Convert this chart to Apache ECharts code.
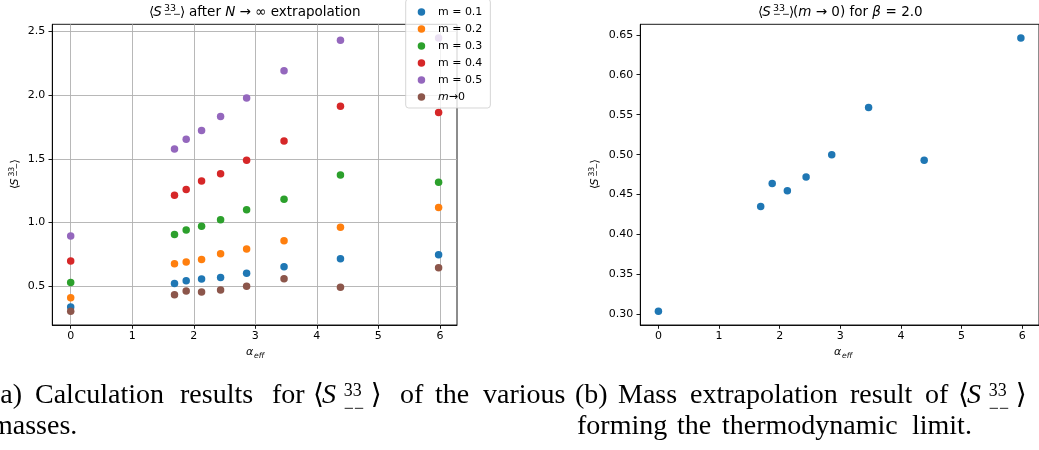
<!DOCTYPE html>
<html>
<head>
<meta charset="utf-8">
<script src="https://cdn.jsdelivr.net/npm/echarts@6.0.0/dist/echarts.min.js"></script>
<style>
  html, body { margin: 0; padding: 0; background: #fff; }
  #chart { width: 1039px; height: 450px; }
</style>
</head>
<body>
<div id="chart"></div>
<script>
// data
const alphaEff = [0, 1.687, 1.877, 2.127, 2.436, 2.859, 3.467, 4.384, 5.979]
const m01 = [0.338, 0.523, 0.544, 0.557, 0.570, 0.602, 0.654, 0.716, 0.748]
const m02 = [0.411, 0.677, 0.690, 0.711, 0.756, 0.792, 0.857, 0.964, 1.118]
const m03 = [0.531, 0.907, 0.941, 0.972, 1.022, 1.100, 1.183, 1.374, 1.316]
const m04 = [0.698, 1.214, 1.259, 1.327, 1.384, 1.488, 1.640, 1.913, 1.864]
const m05 = [0.894, 1.577, 1.653, 1.723, 1.832, 1.978, 2.190, 2.430, 2.448]
const massless = [0.304, 0.435, 0.464, 0.455, 0.472, 0.500, 0.559, 0.493, 0.646]

const seriesNames = ['m = 0.1', 'm = 0.2', 'm = 0.3', 'm = 0.4', 'm = 0.5', 'm→0']
const xTicks = [0, 1, 2, 3, 4, 5, 6]
const yTicksA = [0.5, 1.0, 1.5, 2.0, 2.5]
const yTicksB = [0.30, 0.35, 0.40, 0.45, 0.50, 0.55, 0.60, 0.65]

// matplotlib tab10
const colors = ['#1f77b4', '#ff7f0e', '#2ca02c', '#d62728', '#9467bd', '#8c564b']

const FONT = "'DejaVu Sans', sans-serif"
const SERIF = "'Liberation Serif', 'DejaVu Serif', serif"

// autoscale with 5% margins like matplotlib
function pad(vals) {
  const lo = Math.min(...vals)
  const hi = Math.max(...vals)
  const d = (hi - lo) * 0.05
  return [lo - d, hi + d]
}
const xExt = pad(alphaEff)
const yExtA = pad([].concat(m01, m02, m03, m04, m05, massless))
const yExtB = pad(massless)

const chart = echarts.init(document.getElementById('chart'))

function xAxis(g, grid) {
  return {
    type: 'value',
    gridIndex: g,
    min: xExt[0],
    max: xExt[1],
    axisLine: { show: true, onZero: false, lineStyle: { color: '#000', width: 0.9 } },
    axisTick: { show: true, length: 3.8, customValues: xTicks, lineStyle: { color: '#000', width: 0.9 } },
    axisLabel: { customValues: xTicks, color: '#000', fontSize: 11, margin: 6, fontFamily: FONT },
    splitLine: { show: grid, lineStyle: { color: '#b0b0b0', width: 0.9 } }
  }
}

function yAxis(g, ticks, ext, dec, grid) {
  return {
    type: 'value',
    gridIndex: g,
    min: ext[0],
    max: ext[1],
    axisLine: { show: true, onZero: false, lineStyle: { color: '#000', width: 0.9 } },
    axisTick: { show: true, length: 3.8, customValues: ticks, lineStyle: { color: '#000', width: 0.9 } },
    axisLabel: {
      customValues: ticks,
      color: '#000',
      fontSize: 11,
      margin: 7,
      fontFamily: FONT,
      formatter: v => v.toFixed(dec)
    },
    splitLine: { show: grid, lineStyle: { color: '#b0b0b0', width: 0.9 } }
  }
}

// text helpers, y given as baseline
function t(x, base, str, size, o) {
  o = o || {}
  const fam = o.family || FONT
  return {
    type: 'text',
    silent: true,
    x: x,
    y: base - 0.34 * size,
    style: {
      text: str,
      fontSize: size,
      fontFamily: fam,
      fontStyle: o.italic ? 'italic' : 'normal',
      fill: '#000',
      align: 'left',
      verticalAlign: 'middle',
      textAlign: 'left',
      textVerticalAlign: 'middle',
      rich: o.rich
    }
  }
}

// <S^33_--> with stacked scripts
function bracketS(x, base, fs, fam, gm) {
  return [
    t(x, base, '⟨', fs, { family: fam }),
    t(x + gm.s * fs, base, 'S', fs, { family: fam, italic: true }),
    t(x + gm.sup * fs, base - gm.rise * fs, '33', gm.size * fs, { family: fam }),
    t(x + gm.sup * fs, base + gm.drop * fs, gm.dash, gm.size * fs, { family: fam }),
    t(x + gm.close * fs, base, '⟩', fs, { family: fam })
  ]
}
const mplGeom = { s: 0.31, sup: 1.12, rise: 0.42, drop: 0.04, size: 0.7, close: 2.3, dash: '−\u200a−' }
const texGeom = { s: 0.32, sup: 1.1, rise: 0.26, drop: 0.38, size: 0.64, close: 2.06, dash: '−−' }

const titleFs = 13.5
const italicRich = {
  i: { fontStyle: 'italic', fontFamily: FONT, fontSize: titleFs }
}

function ylabel(cx, cy) {
  const fs = 11
  return {
    type: 'group',
    x: cx,
    y: cy,
    rotation: Math.PI / 2,
    silent: true,
    children: bracketS(-1.3 * fs, 0.36 * fs, fs, FONT, mplGeom)
  }
}

function xlabel(x, base) {
  return [
    t(x, base, 'α', 11, { italic: true }),
    t(x + 8, base + 2.5, 'eff', 7.7, { italic: true })
  ]
}

const capFs = 28
function cap(x, base, str) {
  return t(x, base, str, capFs, { family: SERIF })
}

const graphics = [].concat(
  // titles
  bracketS(149, 17, titleFs, FONT, mplGeom),
  [t(189, 17, 'after {i|N} → ∞ extrapolation', titleFs, { rich: italicRich })],
  bracketS(758, 17, titleFs, FONT, mplGeom),
  [t(793, 17, '({i|m} → 0) for {i|β}\u2004=\u20042.0', titleFs, { rich: italicRich })],
  // axis names
  [ylabel(15, 174.6), ylabel(595, 174.6)],
  xlabel(246, 356),
  xlabel(834, 356),
  // captions
  [
    cap(-9, 405, '(a)'),
    cap(35, 405, 'Calculation'),
    cap(180, 405, 'results'),
    cap(272, 405, 'for')
  ],
  bracketS(313, 405, capFs, SERIF, texGeom),
  [
    cap(400, 405, 'of'),
    cap(435, 405, 'the'),
    cap(483, 405, 'various'),
    cap(-9, 436, 'masses.'),
    cap(575, 405, '(b)'),
    cap(618, 405, 'Mass'),
    cap(690, 405, 'extrapolation'),
    cap(850, 405, 'result'),
    cap(925, 405, 'of')
  ],
  bracketS(958, 405, capFs, SERIF, texGeom),
  [
    cap(577, 436, 'forming'),
    cap(677, 436, 'the'),
    cap(722, 436, 'thermodynamic'),
    cap(912, 436, 'limit.')
  ]
)

const groups = [m01, m02, m03, m04, m05, massless]
const series = groups.map((vals, i) => ({
  type: 'scatter',
  name: seriesNames[i],
  xAxisIndex: 0,
  yAxisIndex: 0,
  data: alphaEff.map((x, j) => [x, vals[j]]),
  symbolSize: 7.5,
  itemStyle: { color: colors[i], opacity: 1 },
  emphasis: { disabled: true }
}))
series.push({
  type: 'scatter',
  name: 'limit',
  xAxisIndex: 1,
  yAxisIndex: 1,
  data: alphaEff.map((x, j) => [x, massless[j]]),
  symbolSize: 7.5,
  itemStyle: { color: colors[0], opacity: 1 },
  emphasis: { disabled: true }
})

chart.setOption({
  animation: false,
  backgroundColor: '#fff',
  textStyle: { fontFamily: FONT },
  grid: [
    { left: 52.3, top: 24.3, width: 404.7, height: 300.7, show: true, borderColor: '#000', borderWidth: 0.9 },
    { left: 640.3, top: 24.3, width: 403.7, height: 300.7, show: true, borderColor: '#000', borderWidth: 0.9 }
  ],
  xAxis: [xAxis(0, true), xAxis(1, false)],
  yAxis: [yAxis(0, yTicksA, yExtA, 1, true), yAxis(1, yTicksB, yExtB, 2, false)],
  legend: {
    data: seriesNames,
    orient: 'vertical',
    left: 405.7,
    top: -1,
    padding: [6, 8, 4, 12],
    itemGap: 3,
    itemWidth: 23,
    itemHeight: 7.5,
    icon: 'circle',
    selectedMode: false,
    backgroundColor: 'rgba(255,255,255,0.8)',
    borderColor: 'rgba(204,204,204,0.8)',
    borderWidth: 1,
    borderRadius: 3,
    formatter: n => (n === 'm→0' ? '{i|m}→0' : n),
    textStyle: {
      fontSize: 11,
      color: '#000',
      fontFamily: FONT,
      lineHeight: 14,
      rich: { i: { fontStyle: 'italic', fontSize: 11, fontFamily: FONT, lineHeight: 14 } }
    }
  },
  tooltip: { show: false },
  series: series,
  graphic: { elements: graphics }
})
</script>
</body>
</html>
